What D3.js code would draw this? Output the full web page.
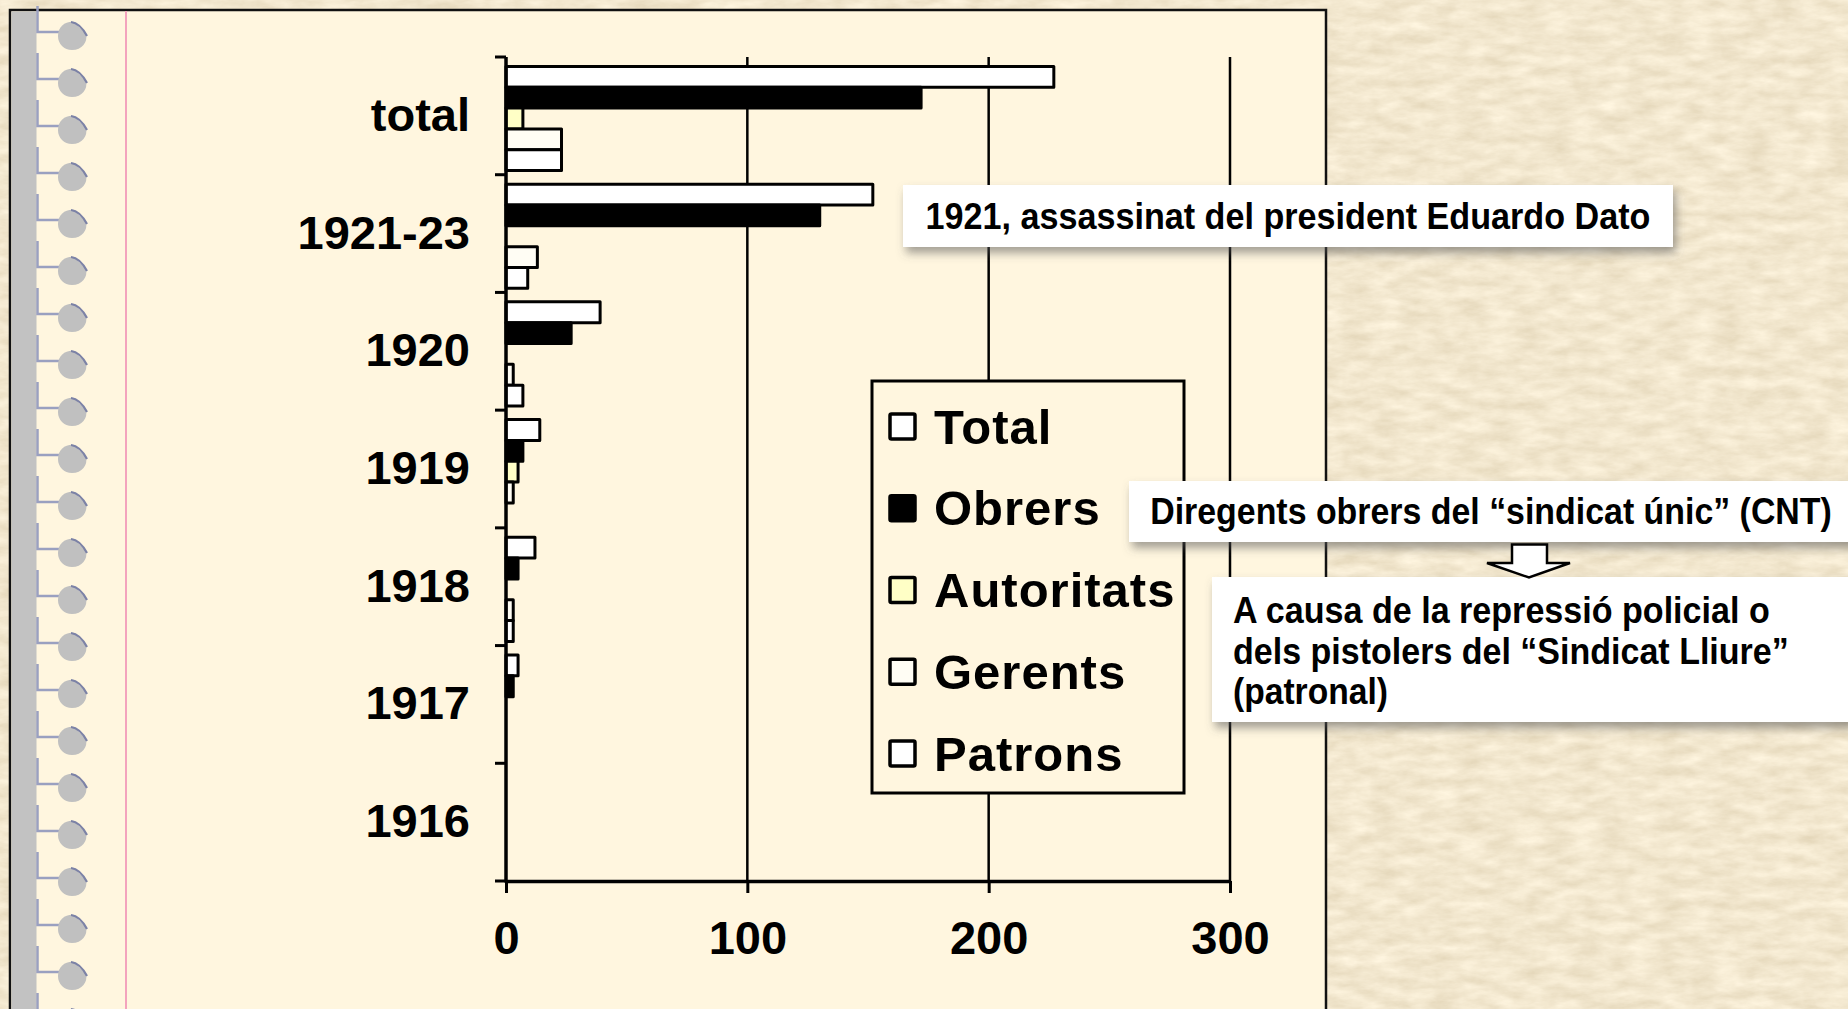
<!DOCTYPE html>
<html lang="ca">
<head>
<meta charset="utf-8">
<title>Víctimes de l'anarquisme i el pistolerisme</title>
<style>
  body { margin: 0; overflow: hidden; background: #dcc59a; }
  svg { display: block; }
  text { font-family: "Liberation Sans", Arial, sans-serif; font-weight: bold; fill: #000; }
</style>
</head>
<body>
<svg id="chart" width="1848" height="1009"></svg>
<script src="https://d3js.org/d3.v7.min.js"></script>
<script>
// categories top to bottom, as in the picture
const categories = ["total", "1921-23", "1920", "1919", "1918", "1917", "1916"];
const seriesNames = ["Total", "Obrers", "Autoritats", "Gerents", "Patrons"];
const totalValues      = [227, 152, 39, 14, 12, 5, 0];
const obrersValues     = [172, 130, 27, 7, 5, 3, 0];
const autoritatsValues = [7, 0, 0, 5, 0, 0, 0];
const gerentsValues    = [23, 13, 3, 3, 3, 0, 0];
const patronsValues    = [23, 9, 7, 0, 3, 0, 0];
const xTicks = [0, 100, 200, 300];
const seriesColors = ["#ffffff", "#000000", "#ffffc6", "#fffdf4", "#ffffff"];

const noteDato = "1921, assassinat del president Eduardo Dato";
const noteCnt = "Diregents obrers del \u201csindicat \u00fanic\u201d (CNT)";
const noteCause = ["A causa de la repressi\u00f3 policial o",
                   "dels pistolers del \u201cSindicat Lliure\u201d",
                   "(patronal)"];

const seriesValues = [totalValues, obrersValues, autoritatsValues, gerentsValues, patronsValues];

const svg = d3.select("#chart");
const W = 1848, H = 1009;
const pageColor = "#fff6df";

// --- filters: paper texture + drop shadow
const defs = svg.append("defs");
const paper = defs.append("filter").attr("id", "paper")
  .attr("x", 0).attr("y", 0).attr("width", "100%").attr("height", "100%");
paper.append("feTurbulence").attr("type", "fractalNoise")
  .attr("baseFrequency", "0.035 0.09").attr("numOctaves", 5).attr("seed", 11);
paper.append("feColorMatrix").attr("type", "matrix")
  .attr("values", "0.26 0 0 0 0.76  0.28 0 0 0 0.66  0.3 0 0 0 0.47  0 0 0 0 1");

const shadow = defs.append("filter").attr("id", "shadow")
  .attr("x", "-10%").attr("y", "-30%").attr("width", "120%").attr("height", "170%");
shadow.append("feDropShadow").attr("dx", 3).attr("dy", 6).attr("stdDeviation", 5)
  .attr("flood-color", "#555").attr("flood-opacity", 0.55);

svg.append("rect").attr("width", W).attr("height", H).attr("filter", "url(#paper)");

// --- notebook page
svg.append("rect").attr("x", 10).attr("y", 10).attr("width", 1316).attr("height", 1100)
  .attr("fill", pageColor).attr("stroke", "#111").attr("stroke-width", 2.5);
svg.append("rect").attr("x", 11.5).attr("y", 11.5).attr("width", 25).attr("height", 1100)
  .attr("fill", "#c2c2c2");
svg.append("line").attr("x1", 126).attr("x2", 126).attr("y1", 11).attr("y2", H)
  .attr("stroke", "#f3a3bd").attr("stroke-width", 2);

const rings = svg.append("g").selectAll("g").data(d3.range(22)).join("g")
  .attr("transform", i => `translate(0,${32 + i * 47})`);
rings.append("path").attr("d", "M37.5,-26V0H62")
  .attr("fill", "none").attr("stroke", "#9aa0c0").attr("stroke-width", 2.5);
rings.append("path").attr("d", "M58,4 C58,-6 66,-11 74,-10 L86,2 C88,10 82,18 72,18 C64,18 58,12 58,4Z")
  .attr("fill", "#c0c0c0");
rings.append("path").attr("d", "M71,-10 Q80,-9 87,4")
  .attr("fill", "none").attr("stroke", "#7c82a6").attr("stroke-width", 2.2);

// --- scales
const x = d3.scaleLinear().domain([0, 300]).range([506, 1230]);
const y = d3.scaleBand().domain(categories).range([57, 881]).padding(0);
const ySeries = d3.scaleBand().domain(seriesNames)
  .range([y.bandwidth() * 0.08, y.bandwidth() * 0.965]).padding(0);
const yBottom = y.range()[1];

// gridlines
svg.append("g").selectAll("line").data(xTicks.slice(1)).join("line")
  .attr("x1", d => x(d)).attr("x2", d => x(d))
  .attr("y1", y.range()[0]).attr("y2", yBottom)
  .attr("stroke", "#000").attr("stroke-width", 2.5);

// bars
const rows = categories.map((c, i) => ({
  cat: c,
  vals: seriesNames.map((s, k) => ({ s, k, v: seriesValues[k][i] }))
}));
const groups = svg.append("g").selectAll("g").data(rows).join("g")
  .attr("transform", d => `translate(0,${y(d.cat)})`);
groups.selectAll("rect").data(d => d.vals.filter(e => e.v > 0)).join("rect")
  .attr("x", x(0))
  .attr("y", d => ySeries(d.s))
  .attr("width", d => x(d.v) - x(0))
  .attr("height", ySeries.bandwidth())
  .attr("fill", d => seriesColors[d.k])
  .attr("stroke", "#000").attr("stroke-width", 3).attr("stroke-linejoin", "round");

// x axis
const xAxis = svg.append("g").attr("transform", `translate(0,${yBottom})`)
  .call(d3.axisBottom(x).tickValues(xTicks).tickSize(12).tickSizeOuter(0).tickPadding(28));
xAxis.select(".domain").attr("stroke", "#000").attr("stroke-width", 3.5);
xAxis.selectAll(".tick line").attr("stroke", "#000").attr("stroke-width", 3);
xAxis.selectAll(".tick text").attr("font-size", 47).attr("font-family", null);

// y axis: labels at band centres, ticks at band edges
const yAxis = svg.append("g").attr("transform", `translate(${x(0)},0)`)
  .call(d3.axisLeft(y).tickSize(0).tickPadding(36));
yAxis.select(".domain").remove();
yAxis.selectAll(".tick text").attr("font-size", 47).attr("font-family", null);
svg.append("line").attr("x1", x(0)).attr("x2", x(0))
  .attr("y1", y.range()[0]).attr("y2", yBottom + 1.5)
  .attr("stroke", "#000").attr("stroke-width", 3.5);
svg.append("g").selectAll("line")
  .data(categories.map(c => y(c)).concat([yBottom])).join("line")
  .attr("x1", x(0) - 11).attr("x2", x(0)).attr("y1", d => d).attr("y2", d => d)
  .attr("stroke", "#000").attr("stroke-width", 3);

// legend (opaque, hides the 200 gridline)
const legend = svg.append("g");
legend.append("rect").attr("x", 872).attr("y", 381).attr("width", 312).attr("height", 412)
  .attr("fill", pageColor).attr("stroke", "#000").attr("stroke-width", 3);
const ly = d3.scalePoint().domain(seriesNames).range([426, 753]);
const items = legend.selectAll("g.item").data(seriesNames).join("g").attr("class", "item")
  .attr("transform", d => `translate(0,${ly(d)})`);
items.append("rect").attr("x", 890).attr("y", -12).attr("width", 25).attr("height", 25)
  .attr("fill", (d, i) => seriesColors[i]).attr("stroke", "#000").attr("stroke-width", 3.5)
  .attr("rx", 1.5);
items.append("text").attr("x", 934).attr("dy", "0.36em")
  .attr("font-size", 49).attr("letter-spacing", 1).text(d => d);

// annotations: condensed text, squeezed horizontally to the wanted width
function note(tx, ty, str, width, anchor) {
  const t = svg.append("text").attr("font-size", 37).attr("text-anchor", anchor).text(str);
  const k = width / t.node().getComputedTextLength();
  t.attr("transform", `translate(${tx},${ty}) scale(${k},1)`);
}
function noteBox(x0, y0, w, h) {
  svg.append("rect").attr("x", x0).attr("y", y0).attr("width", w).attr("height", h)
    .attr("fill", "#fff").attr("filter", "url(#shadow)");
}
noteBox(903, 185, 770, 62);
note(1288, 229, noteDato, 725, "middle");

noteBox(1129, 481, 730, 61);
note(1491, 524, noteCnt, 682, "middle");

noteBox(1212, 577, 640, 145);
const causeWidths = [537, 556, 155];
noteCause.forEach((line, i) => note(1233, 623 + i * 40.5, line, causeWidths[i], "start"));

// block arrow between the two notes
svg.append("path")
  .attr("d", "M1512,544.5H1547V563H1570L1529,577.5L1487,563H1512Z")
  .attr("fill", "#fff").attr("stroke", "#000").attr("stroke-width", 2.5)
  .attr("stroke-linejoin", "miter");
</script>
</body>
</html>
